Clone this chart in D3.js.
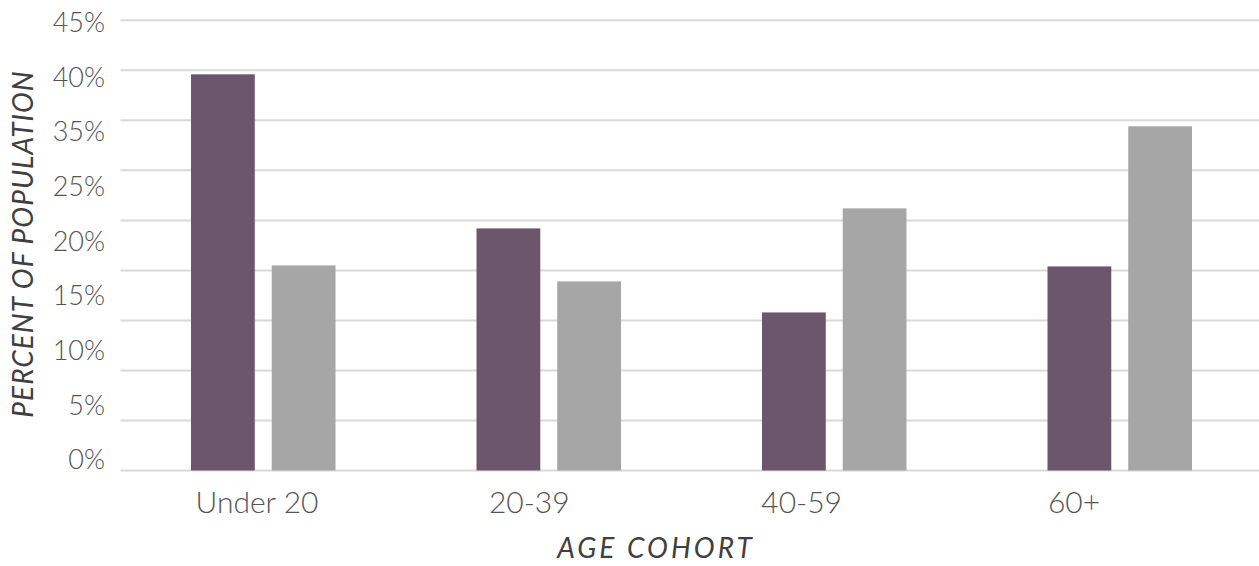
<!DOCTYPE html>
<html>
<head>
<meta charset="utf-8">
<script src="https://cdn.jsdelivr.net/npm/d3@7"></script>
<style>
  html, body { margin: 0; padding: 0; background: #ffffff; }
  svg { display: block; }
</style>
</head>
<body>
<svg id="chart" width="1259" height="566"></svg>
<script>
// Age cohort shares of population, two series per cohort
const categories = ["Under 20", "20-39", "40-59", "60+"];
const seriesNames = ["A", "B"];
const seriesA = [39.6, 24.2, 15.8, 20.4];
const seriesB = [20.5, 18.9, 26.2, 34.4];
const yTickLabels = ["45%", "40%", "35%", "25%", "20%", "15%", "10%", "5%", "0%"];
const gridValues = [0, 5, 10, 15, 20, 25, 30, 35, 40, 45];
const seriesColors = ["#6c566b", "#a6a6a6"];

const svg = d3.select("#chart");
const W = 1259, H = 566;

const plot = { left: 120.5, right: 1262.5, top: 20.3, bottom: 470.5 };

const y = d3.scaleLinear().domain([0, 45]).range([plot.bottom, plot.top]);
const x0 = d3.scaleBand().domain(categories).range([plot.left, plot.right]);
const x1 = d3.scaleBand().domain(seriesNames)
  .range([70.5, x0.bandwidth() - 70.5]).paddingInner(0.21);

// gridlines
svg.append("g").selectAll("line").data(gridValues).join("line")
  .attr("x1", plot.left).attr("x2", W)
  .attr("y1", d => y(d)).attr("y2", d => y(d))
  .attr("stroke", "#d9d9d9").attr("stroke-width", 2);

// bars
const rows = categories.map((c, i) => ({ cat: c, vals: [seriesA[i], seriesB[i]] }));
const groups = svg.append("g").selectAll("g").data(rows).join("g")
  .attr("transform", d => `translate(${x0(d.cat)},0)`);
groups.selectAll("rect")
  .data(d => d.vals.map((v, j) => ({ key: seriesNames[j], v, j })))
  .join("rect")
  .attr("x", d => x1(d.key))
  .attr("width", x1.bandwidth())
  .attr("y", d => y(d.v))
  .attr("height", d => y(0) - y(d.v))
  .attr("fill", d => seriesColors[d.j]);

// y tick labels, spread evenly down the axis
const yLab = d3.scalePoint().domain(yTickLabels).range([22.7, 460]);
svg.append("g").selectAll("text").data(yTickLabels).join("text")
  .attr("x", 105)
  .attr("y", d => yLab(d))
  .attr("dy", "0.35em")
  .attr("text-anchor", "end")
  .attr("font-family", "Lato, sans-serif")
  .attr("font-weight", 300)
  .attr("font-size", 27)
  .attr("fill", "#555555")
  .text(d => d);

// category labels
const xLab = d3.scalePoint().domain(categories).range([257, 1074]);
svg.append("g").selectAll("text").data(categories).join("text")
  .attr("x", d => xLab(d))
  .attr("y", 513)
  .attr("text-anchor", "middle")
  .attr("font-family", "Lato, sans-serif")
  .attr("font-weight", 300)
  .attr("font-size", 30)
  .attr("fill", "#555555")
  .text(d => d);

// axis titles
svg.append("text")
  .attr("transform", "translate(33,244) rotate(-90)")
  .attr("text-anchor", "middle")
  .attr("font-family", "Lato, sans-serif")
  .attr("font-style", "italic")
  .attr("font-size", 28)
  .attr("letter-spacing", 1)
  .attr("fill", "#404040")
  .text("PERCENT OF POPULATION");

svg.append("text")
  .attr("x", 656).attr("y", 558)
  .attr("text-anchor", "middle")
  .attr("font-family", "Lato, sans-serif")
  .attr("font-style", "italic")
  .attr("font-size", 28)
  .attr("letter-spacing", 3)
  .attr("fill", "#404040")
  .text("AGE COHORT");
</script>
</body>
</html>
